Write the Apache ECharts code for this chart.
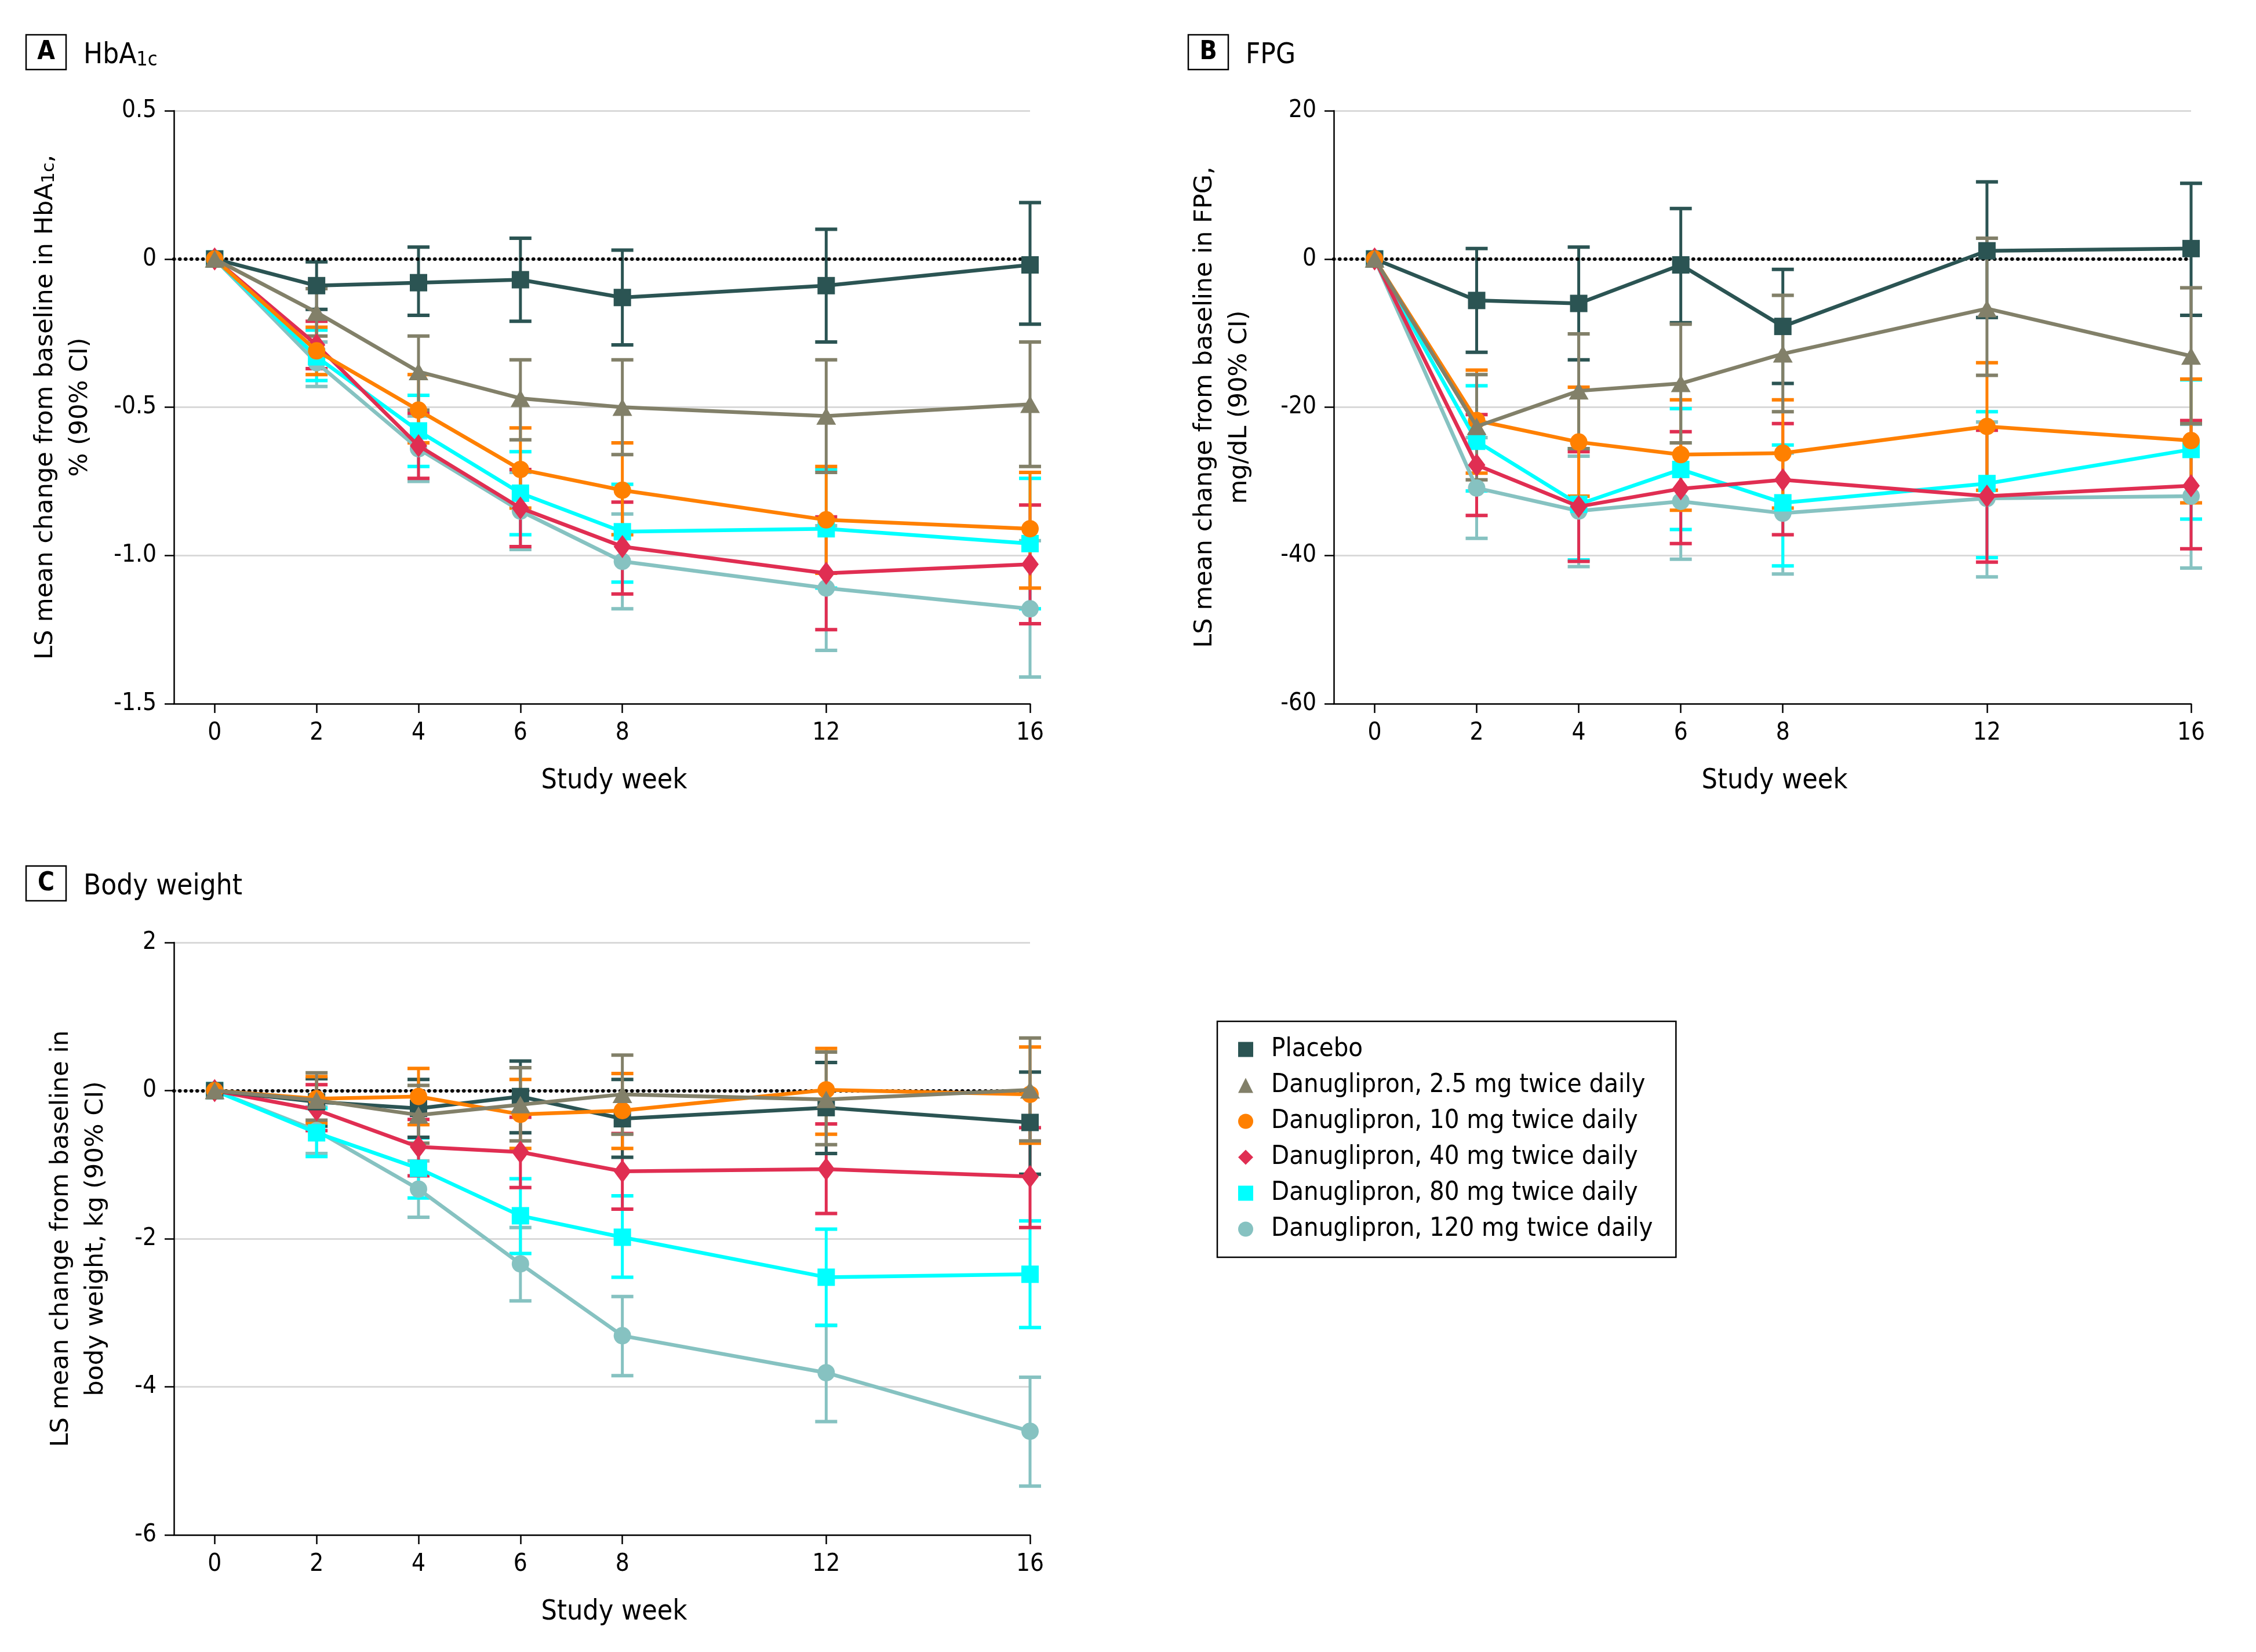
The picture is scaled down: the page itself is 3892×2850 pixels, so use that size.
<!DOCTYPE html>
<html>
<head>
<meta charset="utf-8">
<script src="https://cdn.jsdelivr.net/npm/echarts@6/dist/echarts.min.js"></script>
<style>
  html, body { margin: 0; padding: 0; background: #fff; }
  #chart { width: 3892px; height: 2850px; }
</style>
</head>
<body>
<div id="chart"></div>
<script>
// study weeks on the x axis
const weeks = [0, 2, 4, 6, 8, 12, 16];

const groupNames = [
  'Placebo',
  'Danuglipron, 2.5 mg twice daily',
  'Danuglipron, 10 mg twice daily',
  'Danuglipron, 40 mg twice daily',
  'Danuglipron, 80 mg twice daily',
  'Danuglipron, 120 mg twice daily'
];

// A: HbA1c, % (LS mean, 90% CI low, 90% CI high), one row per group
const hbaMean = [
  [0, -0.09, -0.08, -0.07, -0.13, -0.09, -0.02],
  [0, -0.18, -0.38, -0.47, -0.50, -0.53, -0.49],
  [0, -0.31, -0.51, -0.71, -0.78, -0.88, -0.91],
  [0, -0.29, -0.63, -0.84, -0.97, -1.06, -1.03],
  [0, -0.33, -0.58, -0.79, -0.92, -0.91, -0.96],
  [0, -0.35, -0.64, -0.85, -1.02, -1.11, -1.18]
];
const hbaLow = [
  [0, -0.17, -0.19, -0.21, -0.29, -0.28, -0.22],
  [0, -0.26, -0.51, -0.61, -0.66, -0.72, -0.70],
  [0, -0.39, -0.62, -0.84, -0.93, -1.06, -1.11],
  [0, -0.37, -0.74, -0.97, -1.13, -1.25, -1.23],
  [0, -0.41, -0.70, -0.93, -1.09, -1.11, -1.18],
  [0, -0.43, -0.75, -0.98, -1.18, -1.32, -1.41]
];
const hbaHigh = [
  [0, -0.01, 0.04, 0.07, 0.03, 0.10, 0.19],
  [0, -0.10, -0.26, -0.34, -0.34, -0.34, -0.28],
  [0, -0.23, -0.39, -0.57, -0.62, -0.70, -0.72],
  [0, -0.21, -0.52, -0.71, -0.82, -0.87, -0.83],
  [0, -0.24, -0.46, -0.65, -0.76, -0.71, -0.74],
  [0, -0.28, -0.53, -0.72, -0.86, -0.90, -0.95]
];

// B: FPG, mg/dL
const fpgMean = [
  [0, -5.6, -6.0, -0.8, -9.1, 1.1, 1.4],
  [0, -22.6, -17.8, -16.8, -12.8, -6.7, -13.1],
  [0, -21.8, -24.7, -26.4, -26.2, -22.6, -24.5],
  [0, -27.8, -33.4, -31.0, -29.8, -32.0, -30.6],
  [0, -24.6, -33.1, -28.4, -32.9, -30.3, -25.7],
  [0, -30.9, -34.0, -32.7, -34.3, -32.3, -32.0]
];
const fpgLow = [
  [0, -12.6, -13.6, -8.6, -16.8, -7.9, -7.6],
  [0, -29.8, -25.6, -24.8, -20.6, -15.7, -22.2],
  [0, -28.9, -32.0, -33.9, -33.6, -31.2, -32.9],
  [0, -34.6, -40.8, -38.4, -37.2, -40.9, -39.1],
  [0, -31.3, -40.6, -36.5, -41.4, -40.3, -35.1],
  [0, -37.7, -41.5, -40.5, -42.5, -42.9, -41.7]
];
const fpgHigh = [
  [0, 1.4, 1.6, 6.8, -1.4, 10.4, 10.2],
  [0, -15.6, -10.1, -8.8, -4.9, 2.8, -3.9],
  [0, -15.0, -17.3, -19.0, -19.0, -14.0, -16.2],
  [0, -21.0, -26.0, -23.3, -22.2, -23.1, -21.8],
  [0, -17.1, -25.6, -20.2, -25.1, -20.6, -16.3],
  [0, -24.1, -26.6, -24.8, -26.2, -22.0, -22.3]
];

// C: body weight, kg
const bwMean = [
  [0, -0.15, -0.24, -0.08, -0.38, -0.23, -0.43],
  [0, -0.13, -0.33, -0.19, -0.05, -0.12, 0.01],
  [0, -0.11, -0.08, -0.32, -0.27, 0.01, -0.05],
  [0, -0.26, -0.76, -0.83, -1.09, -1.06, -1.16],
  [0, -0.57, -1.05, -1.69, -1.98, -2.52, -2.48],
  [0, -0.54, -1.33, -2.34, -3.31, -3.81, -4.60]
];
const bwLow = [
  [0, -0.48, -0.63, -0.57, -0.90, -0.85, -1.13],
  [0, -0.40, -0.71, -0.68, -0.59, -0.73, -0.68],
  [0, -0.44, -0.46, -0.78, -0.78, -0.59, -0.71],
  [0, -0.54, -1.15, -1.31, -1.60, -1.66, -1.85],
  [0, -0.89, -1.45, -2.20, -2.52, -3.17, -3.20],
  [0, -0.85, -1.71, -2.84, -3.85, -4.47, -5.34]
];
const bwHigh = [
  [0, 0.16, 0.15, 0.40, 0.15, 0.38, 0.25],
  [0, 0.24, 0.07, 0.31, 0.48, 0.52, 0.71],
  [0, 0.19, 0.30, 0.15, 0.23, 0.57, 0.59],
  [0, 0.08, -0.39, -0.36, -0.58, -0.45, -0.50],
  [0, -0.24, -0.64, -1.19, -1.42, -1.87, -1.76],
  [0, -0.22, -0.95, -1.85, -2.78, -3.17, -3.87]
];

// styles
const colors = ['#2b5453', '#828069', '#ff8000', '#e02e52', '#00ffff', '#86c2c1'];
const symbols = ['rect', 'triangle', 'circle', 'diamond', 'rect', 'circle'];
const symbolSizes = [30, [34, 30], 30, [30, 40], 30, 30];
const drawRank = [4, 6, 5, 3, 2, 1]; // bottom -> top: 120, 80, 40, placebo, 10, 2.5

const NARROW = "'Liberation Sans Narrow', 'DejaVu Sans Condensed', 'Roboto Condensed', 'Noto Sans', sans-serif";
const WIDE = "'DejaVu Sans', Verdana, sans-serif";

const chart = echarts.init(document.getElementById('chart'), null, { renderer: 'canvas' });

function makeX(gridIndex) {
  return {
    type: 'value', gridIndex: gridIndex, min: -0.8, max: 16,
    axisLine: { show: true, onZero: false, lineStyle: { color: '#000', width: 2.5 } },
    axisTick: { show: true, customValues: weeks, length: 16, lineStyle: { color: '#000', width: 2.5 } },
    axisLabel: { customValues: weeks, fontSize: 42, fontFamily: NARROW, color: '#000', margin: 30 },
    splitLine: { show: false },
    name: 'Study week', nameLocation: 'middle', nameGap: 110,
    nameTextStyle: { fontSize: 48, fontFamily: NARROW, color: '#000', padding: [0, 0, 0, 42] }
  };
}

function makeY(gridIndex, min, max, interval, name, gap, digits) {
  return {
    type: 'value', gridIndex: gridIndex, min: min, max: max, interval: interval,
    axisLine: { show: true, onZero: false, lineStyle: { color: '#000', width: 2.5 } },
    axisTick: { show: true, length: 16, lineStyle: { color: '#000', width: 2.5 } },
    axisLabel: {
      fontSize: 42, fontFamily: NARROW, color: '#000', margin: 30,
      formatter: function (v) { return v === 0 ? '0' : v.toFixed(digits); }
    },
    splitLine: { show: true, lineStyle: { color: '#d9d9d9', width: 3 } },
    name: name, nameLocation: 'middle', nameGap: gap, nameRotate: 90,
    nameTextStyle: {
      fontSize: 43, fontFamily: WIDE, color: '#000', lineHeight: 58,
      rich: {
        a: { fontSize: 43, fontFamily: WIDE, color: '#000', align: 'center', lineHeight: 60, verticalAlign: 'bottom' },
        s: { fontSize: 30, fontFamily: WIDE, color: '#000', align: 'center', lineHeight: 30, verticalAlign: 'bottom' }
      }
    }
  };
}

function errorBar(params, api) {
  const x = api.value(0);
  const lo = api.coord([x, api.value(1)]);
  const hi = api.coord([x, api.value(2)]);
  const color = api.visual('color');
  const hw = 19;
  return {
    type: 'group',
    children: [
      { type: 'line', shape: { x1: lo[0], y1: lo[1], x2: hi[0], y2: hi[1] }, style: { stroke: color, lineWidth: 5 } },
      { type: 'line', shape: { x1: lo[0] - hw, y1: lo[1], x2: lo[0] + hw, y2: lo[1] }, style: { stroke: color, lineWidth: 6 } },
      { type: 'line', shape: { x1: hi[0] - hw, y1: hi[1], x2: hi[0] + hw, y2: hi[1] }, style: { stroke: color, lineWidth: 6 } }
    ]
  };
}

const panels = [
  { mean: hbaMean, low: hbaLow, high: hbaHigh },
  { mean: fpgMean, low: fpgLow, high: fpgHigh },
  { mean: bwMean, low: bwLow, high: bwHigh }
];

const series = [];
panels.forEach(function (p, pi) {
  groupNames.forEach(function (name, g) {
    const ci = [];
    for (let i = 1; i < weeks.length; i++) ci.push([weeks[i], p.low[g][i], p.high[g][i]]);
    series.push({
      type: 'custom', name: name + ' CI', xAxisIndex: pi, yAxisIndex: pi,
      z: drawRank[g], silent: true, animation: false,
      itemStyle: { color: colors[g] },
      encode: { x: 0, y: [1, 2] },
      renderItem: errorBar,
      data: ci
    });
  });
  groupNames.forEach(function (name, g) {
    const s = {
      type: 'line', name: name, xAxisIndex: pi, yAxisIndex: pi,
      z: 10 + drawRank[g], animation: false, silent: true,
      symbol: symbols[g], symbolSize: symbolSizes[g], showSymbol: true,
      lineStyle: { color: colors[g], width: 6.5 },
      itemStyle: { color: colors[g] },
      data: weeks.map(function (w, i) { return [w, p.mean[g][i]]; })
    };
    if (g === 5) {
      // dotted reference line at zero change
      s.markLine = {
        silent: true, symbol: 'none', animation: false,
        label: { show: false },
        lineStyle: { color: '#000', type: [0.5, 9.5], cap: 'round', width: 6 },
        data: [{ yAxis: 0 }]
      };
    }
    series.push(s);
  });
});

function panelLabel(letter, x, y) {
  return {
    type: 'group', x: x, y: y,
    children: [
      { type: 'rect', shape: { x: 0, y: 0, width: 69, height: 60 }, style: { fill: '#fff', stroke: '#000', lineWidth: 2.5 } },
      { type: 'text', x: 34.5, y: 31, style: { text: letter, font: 'bold 44px ' + NARROW, fill: '#000', align: 'center', verticalAlign: 'middle' } }
    ]
  };
}

function panelTitle(text, x, y) {
  return {
    type: 'text', x: x, y: y,
    style: {
      text: text, fill: '#000', verticalAlign: 'middle', align: 'left',
      font: '49px ' + NARROW,
      rich: {
        m: { fontSize: 49, fontFamily: NARROW, color: '#000', lineHeight: 62, verticalAlign: 'bottom' },
        s: { fontSize: 34, fontFamily: NARROW, color: '#000', lineHeight: 30, verticalAlign: 'bottom' }
      }
    }
  };
}

const option = {
  backgroundColor: '#fff',
  animation: false,
  grid: [
    { left: 300, top: 191, width: 1477, height: 1023, outerBoundsMode: 'none' },
    { left: 2301, top: 191, width: 1479, height: 1023, outerBoundsMode: 'none' },
    { left: 300, top: 1626, width: 1477, height: 1022, outerBoundsMode: 'none' }
  ],
  xAxis: [makeX(0), makeX(1), makeX(2)],
  yAxis: [
    makeY(0, -1.5, 0.5, 0.5, '{a|LS mean change from baseline in HbA}{s|1c}{a|,}\n{a|% (90% CI)}', 140, 1),
    makeY(1, -60, 20, 20, '{a|LS mean change from baseline in FPG,}\n{a|mg/dL (90% CI)}', 141, 0),
    makeY(2, -6, 2, 2, '{a|LS mean change from baseline in}\n{a|body weight, kg (90% CI)}', 113, 0)
  ],
  legend: {
    orient: 'vertical', left: 2100, top: 1762,
    padding: [26, 40, 26, 36],
    itemGap: 17, itemWidth: 26, itemHeight: 26,
    borderColor: '#000', borderWidth: 2.5,
    selectedMode: false,
    textStyle: { fontSize: 45, fontFamily: NARROW, color: '#000', padding: [0, 0, 0, 26] },
    data: groupNames.map(function (n, i) { return { name: n, icon: symbols[i], itemStyle: { color: colors[i] } }; })
  },
  graphic: [
    panelLabel('A', 45, 60),
    panelTitle('{m|HbA}{s|1c}', 144, 90),
    panelLabel('B', 2050, 60),
    panelTitle('{m|FPG}', 2149, 90),
    panelLabel('C', 45, 1494),
    panelTitle('{m|Body weight}', 144, 1524)
  ],
  series: series
};

chart.setOption(option);
</script>
</body>
</html>
